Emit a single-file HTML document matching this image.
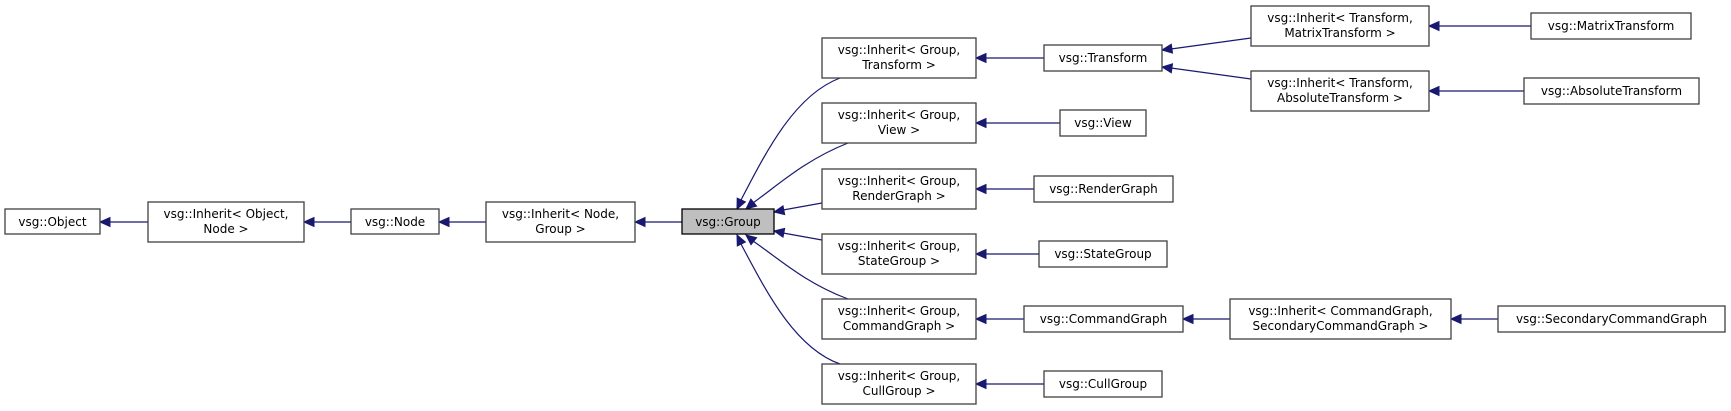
<!DOCTYPE html>
<html><head><meta charset="utf-8"><style>
html,body{margin:0;padding:0;background:#fff;}
svg{display:block;}
text{font-family:"DejaVu Sans","Liberation Sans",sans-serif;font-size:12px;fill:#000;}
.b{fill:#fff;stroke:#404040;stroke-width:1.3;}
.e{fill:none;stroke:#191970;stroke-width:1.2;}
.a polygon{fill:#191970;stroke:#191970;stroke-width:1;}
</style></head><body>
<svg width="1731" height="411" viewBox="0 0 1731 411" xmlns="http://www.w3.org/2000/svg">
<g class="e">
<path d="M108,222 L148,222"/>
<path d="M312,222 L351,222"/>
<path d="M447,222 L486,222"/>
<path d="M643,222 L682,222"/>
<path d="M741,200 C767,150 795,95 840,78"/>
<path d="M753,203 C778,185 805,160 848,143"/>
<path d="M783,210 L822,203"/>
<path d="M783,233 L822,240"/>
<path d="M753,241 C778,258 805,283 848,299"/>
<path d="M741,244 C767,293 795,348 840,364"/>
<path d="M984,58 L1044,58"/>
<path d="M984,123 L1060,123"/>
<path d="M984,189 L1034,189"/>
<path d="M984,254 L1039,254"/>
<path d="M984,319 L1024,319"/>
<path d="M984,384 L1044,384"/>
<path d="M1171,49 L1251,38"/>
<path d="M1171,68 L1251,79"/>
<path d="M1437,26 L1531,26"/>
<path d="M1437,91 L1524,91"/>
<path d="M1191,319 L1230,319"/>
<path d="M1459,319 L1498,319"/>
</g>
<g class="a">
<polygon points="100,222 110,217.5 110,226.5"/>
<polygon points="304,222 314,217.5 314,226.5"/>
<polygon points="439,222 449,217.5 449,226.5"/>
<polygon points="635,222 645,217.5 645,226.5"/>
<polygon points="737,209 745.4,201.9 737.2,198.1"/>
<polygon points="746,209 756.6,206.1 750.8,199.1"/>
<polygon points="774,212 784.7,214.6 783.0,205.8"/>
<polygon points="774,231 783.0,237.2 784.7,228.4"/>
<polygon points="746,235 751.0,244.7 756.6,237.7"/>
<polygon points="737,235 737.3,246.0 745.4,242.0"/>
<polygon points="976,58 986,53.5 986,62.5"/>
<polygon points="976,123 986,118.5 986,127.5"/>
<polygon points="976,189 986,184.5 986,193.5"/>
<polygon points="976,254 986,249.5 986,258.5"/>
<polygon points="976,319 986,314.5 986,323.5"/>
<polygon points="976,384 986,379.5 986,388.5"/>
<polygon points="1162,50 1172.5,53.1 1171.3,44.2"/>
<polygon points="1162,67 1171.3,72.8 1172.5,63.8"/>
<polygon points="1429,26 1439,21.5 1439,30.5"/>
<polygon points="1429,91 1439,86.5 1439,95.5"/>
<polygon points="1183,319 1193,314.5 1193,323.5"/>
<polygon points="1451,319 1461,314.5 1461,323.5"/>
</g>
<rect class="b" x="5" y="209" width="95" height="25"/>
<text x="52.5" y="226" text-anchor="middle">vsg::Object</text>

<rect class="b" x="148" y="202" width="156" height="40"/>
<text x="226" y="218" text-anchor="middle">vsg::Inherit&lt; Object,</text>
<text x="226" y="233" text-anchor="middle">Node &gt;</text>

<rect class="b" x="351" y="209" width="88" height="25"/>
<text x="395" y="226" text-anchor="middle">vsg::Node</text>

<rect class="b" x="486" y="202" width="149" height="40"/>
<text x="560.5" y="218" text-anchor="middle">vsg::Inherit&lt; Node,</text>
<text x="560.5" y="233" text-anchor="middle">Group &gt;</text>

<rect x="682" y="209" width="92" height="25" fill="#bfbfbf" stroke="#000" stroke-width="1.3"/>
<text x="728" y="226" text-anchor="middle">vsg::Group</text>

<rect class="b" x="822" y="38" width="154" height="40"/>
<text x="899" y="54" text-anchor="middle">vsg::Inherit&lt; Group,</text>
<text x="899" y="69" text-anchor="middle">Transform &gt;</text>

<rect class="b" x="822" y="103" width="154" height="40"/>
<text x="899" y="119" text-anchor="middle">vsg::Inherit&lt; Group,</text>
<text x="899" y="134" text-anchor="middle">View &gt;</text>

<rect class="b" x="822" y="169" width="154" height="40"/>
<text x="899" y="185" text-anchor="middle">vsg::Inherit&lt; Group,</text>
<text x="899" y="200" text-anchor="middle">RenderGraph &gt;</text>

<rect class="b" x="822" y="234" width="154" height="40"/>
<text x="899" y="250" text-anchor="middle">vsg::Inherit&lt; Group,</text>
<text x="899" y="265" text-anchor="middle">StateGroup &gt;</text>

<rect class="b" x="822" y="299" width="154" height="40"/>
<text x="899" y="315" text-anchor="middle">vsg::Inherit&lt; Group,</text>
<text x="899" y="330" text-anchor="middle">CommandGraph &gt;</text>

<rect class="b" x="822" y="364" width="154" height="40"/>
<text x="899" y="380" text-anchor="middle">vsg::Inherit&lt; Group,</text>
<text x="899" y="395" text-anchor="middle">CullGroup &gt;</text>

<rect class="b" x="1044" y="45" width="118" height="26"/>
<text x="1103" y="62" text-anchor="middle">vsg::Transform</text>

<rect class="b" x="1060" y="110" width="86" height="26"/>
<text x="1103" y="127" text-anchor="middle">vsg::View</text>

<rect class="b" x="1034" y="176" width="139" height="26"/>
<text x="1103.5" y="193" text-anchor="middle">vsg::RenderGraph</text>

<rect class="b" x="1039" y="241" width="128" height="26"/>
<text x="1103" y="258" text-anchor="middle">vsg::StateGroup</text>

<rect class="b" x="1024" y="306" width="159" height="26"/>
<text x="1103.5" y="323" text-anchor="middle">vsg::CommandGraph</text>

<rect class="b" x="1044" y="371" width="118" height="26"/>
<text x="1103" y="388" text-anchor="middle">vsg::CullGroup</text>

<rect class="b" x="1251" y="6" width="178" height="40"/>
<text x="1340" y="22" text-anchor="middle">vsg::Inherit&lt; Transform,</text>
<text x="1340" y="37" text-anchor="middle">MatrixTransform &gt;</text>

<rect class="b" x="1251" y="71" width="178" height="40"/>
<text x="1340" y="87" text-anchor="middle">vsg::Inherit&lt; Transform,</text>
<text x="1340" y="102" text-anchor="middle">AbsoluteTransform &gt;</text>

<rect class="b" x="1230" y="299" width="221" height="40"/>
<text x="1340.5" y="315" text-anchor="middle">vsg::Inherit&lt; CommandGraph,</text>
<text x="1340.5" y="330" text-anchor="middle">SecondaryCommandGraph &gt;</text>

<rect class="b" x="1531" y="13" width="160" height="26"/>
<text x="1611" y="30" text-anchor="middle">vsg::MatrixTransform</text>

<rect class="b" x="1524" y="78" width="175" height="26"/>
<text x="1611.5" y="95" text-anchor="middle">vsg::AbsoluteTransform</text>

<rect class="b" x="1498" y="306" width="227" height="26"/>
<text x="1611.5" y="323" text-anchor="middle">vsg::SecondaryCommandGraph</text>
</svg>
</body></html>
